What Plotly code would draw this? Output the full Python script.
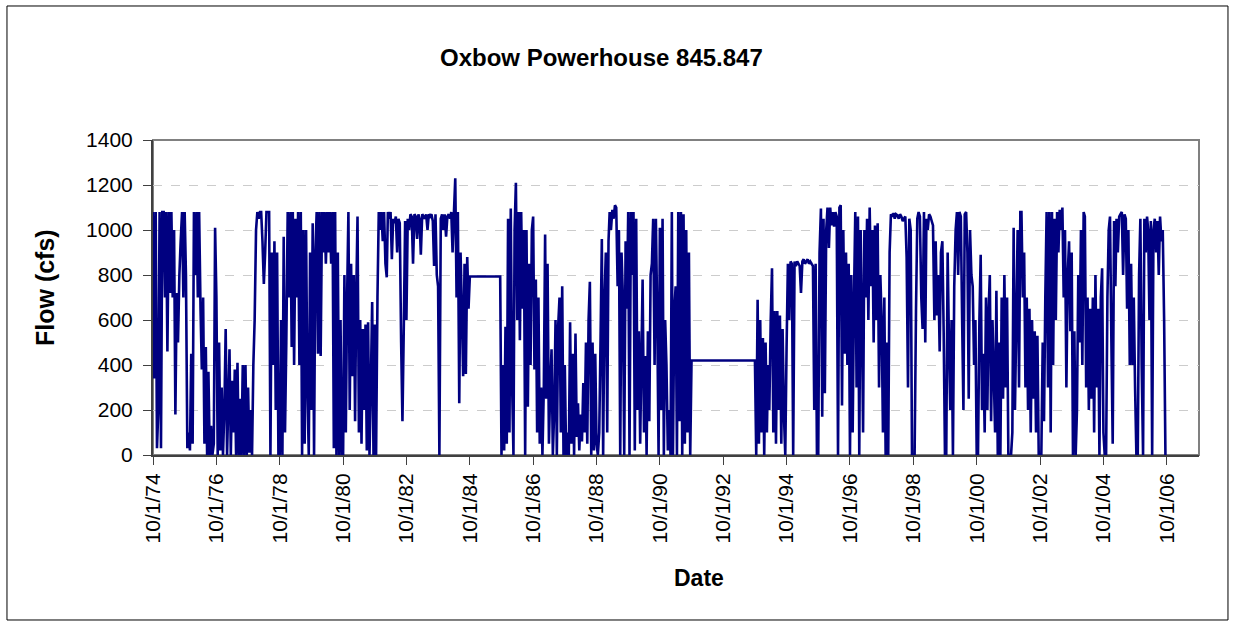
import pandas as pd
import plotly.graph_objects as go

# Daily flow sampled twice a month (1st and 16th), one list per water year (Oct-Sep)
wy1975 = [1080, 340, 1080, 30, 200, 1080, 30, 1080, 1080, 700, 1080, 460,
          1080, 720, 1080, 700, 1000, 180, 720, 500, 800, 950, 1080, 700]
wy1976 = [1080, 800, 30, 100, 20, 450, 50, 1080, 800, 1080, 700, 1080,
          650, 380, 700, 50, 480, 0, 370, 0, 130, 0, 50, 1010]
wy1977 = [700, 0, 500, 20, 300, 0, 200, 560, 0, 240, 470, 0,
          330, 100, 380, 0, 410, 0, 250, 0, 400, 0, 400, 0]
wy1978 = [300, 10, 200, 0, 400, 600, 1000, 1080, 1050, 1080, 1080, 950,
          760, 900, 1080, 1080, 1080, 0, 900, 400, 950, 200, 900, 0]
wy1979 = [0, 600, 0, 970, 100, 500, 1080, 700, 1080, 480, 1080, 400,
          1050, 700, 1080, 400, 1080, 0, 1000, 50, 1000, 300, 0, 900]
wy1980 = [200, 1030, 0, 900, 1080, 450, 1080, 440, 1080, 900, 1080, 850,
          1080, 900, 1080, 850, 1080, 30, 1080, 0, 900, 0, 600, 0]
wy1981 = [0, 800, 100, 700, 1080, 200, 850, 350, 800, 150, 700, 1060,
          100, 600, 50, 560, 200, 580, 20, 590, 0, 300, 680, 0]
wy1982 = [580, 0, 700, 1080, 1000, 1080, 950, 1080, 850, 790, 1080, 1050,
          1080, 870, 1050, 1030, 1060, 900, 1050, 1030, 500, 150, 580, 1040]
wy1983 = [600, 1050, 1000, 1070, 1060, 850, 1070, 1060, 960, 1070, 1050, 890,
          1070, 1060, 1050, 1070, 1000, 1070, 1060, 1070, 1040, 840, 1070, 800]
wy1984 = [750, 0, 1050, 1070, 1000, 1070, 970, 1060, 1070, 1050, 1080, 900,
          1080, 1230, 700, 1080, 230, 900, 650, 350, 850, 360, 880, 650]
wy1985 = [793, 793, 793, 793, 793, 793, 793, 793, 793, 793, 793, 793,
          793, 793, 793, 793, 793, 793, 793, 793, 793, 793, 793, 793]
wy1986 = [0, 400, 20, 570, 50, 1050, 100, 1095, 300, 0, 1000, 1210,
          600, 1080, 510, 1080, 650, 1000, 0, 1000, 215, 850, 400, 1000]
wy1987 = [1060, 380, 780, 100, 700, 50, 300, 0, 300, 980, 250, 850,
          50, 300, 470, 0, 200, 600, 0, 570, 700, 100, 750, 0]
wy1988 = [400, 0, 100, 0, 590, 50, 450, 0, 540, 80, 230, 20,
          180, 60, 320, 100, 500, 50, 600, 770, 0, 500, 20, 450]
wy1989 = [50, 0, 100, 510, 960, 0, 700, 900, 100, 950, 1080, 1000,
          1090, 1050, 1110, 1100, 750, 1000, 0, 900, 700, 0, 950, 650]
wy1990 = [1080, 0, 1080, 800, 1080, 20, 1050, 200, 550, 50, 400, 780,
          100, 440, 0, 550, 150, 800, 850, 1050, 400, 1050, 600, 0]
wy1991 = [1010, 200, 1050, 0, 600, 400, 20, 200, 0, 1080, 0, 640,
          750, 0, 1080, 150, 1080, 0, 1070, 50, 1000, 100, 900, 0]
wy1992 = [420, 420, 420, 420, 420, 420, 420, 420, 420, 420, 420, 420,
          420, 420, 420, 420, 420, 420, 420, 420, 420, 420, 420, 420]
wy1993 = [420, 420, 420, 420, 420, 420, 420, 420, 420, 420, 420, 420,
          420, 420, 420, 420, 420, 420, 420, 420, 420, 420, 420, 420]
wy1994 = [420, 0, 690, 50, 600, 100, 520, 0, 500, 100, 400, 200,
          600, 830, 100, 640, 50, 640, 200, 620, 50, 560, 170, 0]
wy1995 = [480, 850, 600, 860, 850, 0, 860, 840, 860, 850, 840, 720,
          860, 870, 850, 860, 870, 850, 860, 850, 840, 200, 850, 0]
wy1996 = [0, 900, 1095, 170, 1050, 275, 1000, 1100, 920, 1100, 1020, 1080,
          1015, 1080, 1060, 0, 1100, 1110, 220, 1000, 450, 900, 400, 850]
wy1997 = [0, 800, 100, 700, 1080, 300, 1060, 0, 1000, 600, 100, 1000,
          700, 1050, 600, 1100, 750, 1000, 500, 1020, 600, 1030, 300, 800]
wy1998 = [600, 100, 700, 0, 500, 0, 900, 1070, 1060, 1075, 1050, 1070,
          1065, 1050, 1070, 1060, 1040, 1050, 1060, 880, 300, 1050, 1000, 0]
wy1999 = [0, 0, 640, 1050, 1080, 1060, 700, 560, 1080, 500, 1050, 1000,
          1070, 1060, 1040, 1020, 600, 950, 620, 800, 460, 900, 950, 550]
wy2000 = [0, 0, 900, 500, 200, 600, 0, 750, 1000, 1080, 800, 1080,
          1060, 600, 200, 1070, 1080, 900, 250, 1000, 800, 750, 400, 600]
wy2001 = [0, 0, 600, 890, 200, 450, 100, 700, 200, 650, 800, 150,
          600, 350, 100, 730, 0, 500, 0, 700, 250, 800, 300, 700]
wy2002 = [0, 0, 0, 100, 1010, 200, 600, 1000, 300, 1080, 1080, 700,
          900, 300, 700, 200, 650, 100, 600, 250, 550, 100, 530, 0]
wy2003 = [0, 0, 500, 150, 700, 1080, 300, 1080, 100, 1080, 400, 1050,
          600, 1080, 900, 1090, 1000, 1100, 700, 1000, 300, 800, 950, 550]
wy2004 = [900, 0, 550, 0, 200, 800, 500, 1000, 400, 1080, 1060, 300,
          700, 200, 650, 250, 700, 100, 800, 300, 650, 0, 700, 830]
wy2005 = [100, 0, 0, 700, 1000, 1060, 500, 50, 1040, 750, 1050, 900,
          1060, 1070, 1080, 800, 1070, 1050, 650, 1000, 400, 850, 400, 700]
wy2006 = [300, 0, 0, 800, 1050, 400, 0, 1050, 900, 1060, 1000, 600,
          1040, 0, 1000, 1050, 900, 1040, 800, 1060, 950, 1000, 600, 0]

water_years = [wy1975, wy1976, wy1977, wy1978, wy1979, wy1980, wy1981, wy1982,
               wy1983, wy1984, wy1985, wy1986, wy1987, wy1988, wy1989, wy1990,
               wy1991, wy1992, wy1993, wy1994, wy1995, wy1996, wy1997, wy1998,
               wy1999, wy2000, wy2001, wy2002, wy2003, wy2004, wy2005, wy2006]
first_water_year = 1975

tick_years = list(range(1974, 2007, 2))
tick_labels = [f"10/1/{y % 100:02d}" for y in tick_years]

dates, flows = [], []
for k, values in enumerate(water_years):
    wy = first_water_year + k
    months = [(wy - 1, m) for m in (10, 11, 12)] + [(wy, m) for m in range(1, 10)]
    stamps = []
    for yr, mo in months:
        stamps.append(pd.Timestamp(yr, mo, 1))
        stamps.append(pd.Timestamp(yr, mo, 16))
    dates.extend(stamps)
    flows.extend(values)

fig = go.Figure()
fig.add_trace(go.Scatter(
    x=dates, y=flows, mode="lines",
    line=dict(color="#000080", width=2.6, simplify=False),
    hoverinfo="skip", showlegend=False,
))

font = "Liberation Sans, Arial, sans-serif"

fig.update_layout(
    width=1235, height=625,
    margin=dict(l=153, r=36, t=140, b=170),
    paper_bgcolor="white", plot_bgcolor="white",
    font=dict(family=font, color="black"),
    xaxis=dict(
        type="date",
        range=["1974-10-01", "2007-10-08"],
        tickmode="array",
        tickvals=[pd.Timestamp(y, 10, 1) for y in tick_years],
        ticktext=tick_labels,
        tickangle=-90,
        tickfont=dict(size=21),
        ticks="outside", ticklen=8, tickcolor="#404040", tickwidth=1,
        showgrid=False, zeroline=False,
        showline=True, linecolor="#404040", linewidth=2,
    ),
    yaxis=dict(
        range=[0, 1400],
        tickvals=[0, 200, 400, 600, 800, 1000, 1200, 1400],
        tickfont=dict(size=21),
        ticks="outside", ticklen=8, tickcolor="#404040", tickwidth=1,
        ticklabelstandoff=6,
        showgrid=True, gridcolor="#cccccc", griddash="dash", gridwidth=1,
        zeroline=False,
        showline=True, linecolor="#404040", linewidth=2,
    ),
    shapes=[
        # plot area frame
        dict(type="rect", xref="paper", yref="paper", x0=0, x1=1, y0=0, y1=1,
             line=dict(color="#808080", width=2), layer="below"),
        # chart area border
        dict(type="rect", xref="paper", yref="paper",
             x0=-0.1396, x1=1.0277, y0=-0.5238, y1=1.4254,
             line=dict(color="black", width=1)),
    ],
    annotations=[
        dict(text="<b>Oxbow Powerhouse 845.847</b>", xref="paper", yref="paper",
             x=(601 - 153) / 1046, y=(455 - 57) / 315, showarrow=False,
             xanchor="center", yanchor="middle", font=dict(size=24)),
        dict(text="<b>Date</b>", xref="paper", yref="paper",
             x=(699 - 153) / 1046, y=(455 - 578) / 315, showarrow=False,
             xanchor="center", yanchor="middle", font=dict(size=23)),
        dict(text="<b>Flow (cfs)</b>", xref="paper", yref="paper",
             x=(45 - 153) / 1046, y=(455 - 288) / 315, showarrow=False,
             xanchor="center", yanchor="middle", textangle=-90, font=dict(size=25)),
    ],
)

fig.write_html("out.html")
